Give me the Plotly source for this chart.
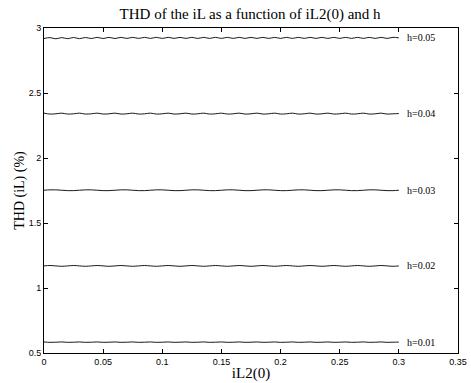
import plotly.graph_objects as go

x_vals = [
    0.000, 0.005, 0.010, 0.015, 0.020, 0.025, 0.030, 0.035, 0.040, 0.045,
    0.050, 0.055, 0.060, 0.065, 0.070, 0.075, 0.080, 0.085, 0.090, 0.095,
    0.100, 0.105, 0.110, 0.115, 0.120, 0.125, 0.130, 0.135, 0.140, 0.145,
    0.150, 0.155, 0.160, 0.165, 0.170, 0.175, 0.180, 0.185, 0.190, 0.195,
    0.200, 0.205, 0.210, 0.215, 0.220, 0.225, 0.230, 0.235, 0.240, 0.245,
    0.250, 0.255, 0.260, 0.265, 0.270, 0.275, 0.280, 0.285, 0.290, 0.295,
    0.300,
]

thd_h001 = [
    0.585, 0.582, 0.583, 0.585, 0.582, 0.583, 0.585, 0.582, 0.583, 0.585, 0.582, 0.583,
    0.585, 0.582, 0.583, 0.585, 0.582, 0.583, 0.585, 0.582, 0.583, 0.585, 0.582, 0.583,
    0.585, 0.582, 0.583, 0.585, 0.582, 0.583, 0.585, 0.582, 0.583, 0.585, 0.582, 0.583,
    0.585, 0.582, 0.583, 0.585, 0.582, 0.583, 0.585, 0.582, 0.583, 0.585, 0.582, 0.583,
    0.585, 0.582, 0.583, 0.585, 0.582, 0.583, 0.585, 0.582, 0.583, 0.585, 0.582, 0.583,
    0.584,
]

thd_h002 = [
    1.170, 1.173, 1.170, 1.167, 1.170, 1.173, 1.170, 1.167, 1.170, 1.173, 1.170, 1.167,
    1.170, 1.173, 1.170, 1.167, 1.170, 1.173, 1.170, 1.167, 1.170, 1.173, 1.170, 1.167,
    1.170, 1.173, 1.170, 1.167, 1.170, 1.173, 1.170, 1.167, 1.170, 1.173, 1.170, 1.167,
    1.170, 1.173, 1.170, 1.167, 1.170, 1.173, 1.170, 1.167, 1.170, 1.173, 1.170, 1.167,
    1.170, 1.173, 1.170, 1.167, 1.170, 1.173, 1.170, 1.167, 1.170, 1.173, 1.170, 1.167,
    1.170,
]

thd_h003 = [
    1.752, 1.755, 1.755, 1.752, 1.749, 1.749, 1.752, 1.755, 1.755, 1.752, 1.749, 1.749,
    1.752, 1.755, 1.755, 1.752, 1.749, 1.749, 1.752, 1.755, 1.755, 1.752, 1.749, 1.749,
    1.752, 1.755, 1.755, 1.752, 1.749, 1.749, 1.752, 1.755, 1.755, 1.752, 1.749, 1.749,
    1.752, 1.755, 1.755, 1.752, 1.749, 1.749, 1.752, 1.755, 1.755, 1.752, 1.749, 1.749,
    1.752, 1.755, 1.755, 1.752, 1.749, 1.749, 1.752, 1.755, 1.755, 1.752, 1.749, 1.749,
    1.752,
]

thd_h004 = [
    2.345, 2.338, 2.340, 2.345, 2.338, 2.340, 2.345, 2.338, 2.340, 2.345, 2.338, 2.340,
    2.345, 2.338, 2.340, 2.345, 2.338, 2.340, 2.345, 2.338, 2.340, 2.345, 2.338, 2.340,
    2.345, 2.338, 2.340, 2.345, 2.338, 2.340, 2.345, 2.338, 2.340, 2.345, 2.338, 2.340,
    2.345, 2.338, 2.340, 2.345, 2.338, 2.340, 2.345, 2.338, 2.340, 2.345, 2.338, 2.340,
    2.345, 2.338, 2.340, 2.345, 2.338, 2.340, 2.345, 2.338, 2.340, 2.345, 2.338, 2.340,
    2.342,
]

thd_h005 = [
    2.919, 2.926, 2.917, 2.926, 2.918, 2.927, 2.918, 2.927, 2.919, 2.928,
    2.919, 2.928, 2.919, 2.928, 2.920, 2.928, 2.920, 2.928, 2.920, 2.928,
    2.920, 2.928, 2.920, 2.928, 2.920, 2.928, 2.920, 2.928, 2.920, 2.928,
    2.920, 2.928, 2.920, 2.928, 2.920, 2.928, 2.920, 2.928, 2.920, 2.928,
    2.920, 2.928, 2.920, 2.928, 2.920, 2.928, 2.920, 2.928, 2.920, 2.928,
    2.920, 2.928, 2.920, 2.928, 2.920, 2.928, 2.920, 2.928, 2.920, 2.928,
    2.924,
]

series = [
    ("h=0.01", thd_h001),
    ("h=0.02", thd_h002),
    ("h=0.03", thd_h003),
    ("h=0.04", thd_h004),
    ("h=0.05", thd_h005),
]

x_ticks = [0, 0.05, 0.1, 0.15, 0.2, 0.25, 0.3, 0.35]
x_tick_text = ["0", "0.05", "0.1", "0.15", "0.2", "0.25", "0.3", "0.35"]
y_ticks = [0.5, 1, 1.5, 2, 2.5, 3]
y_tick_text = ["0.5", "1", "1.5", "2", "2.5", "3"]

fig = go.Figure()
annotations = []
for name, vals in series:
    fig.add_trace(go.Scatter(
        x=x_vals, y=vals, mode="lines", name=name,
        line=dict(color="black", width=0.9, shape="spline", smoothing=1.0),
        showlegend=False, hoverinfo="skip",
    ))
    annotations.append(dict(
        x=0.305, y=vals[-1], xref="x", yref="y", text=name,
        showarrow=False, xanchor="left", yanchor="middle",
        font=dict(family="Liberation Serif", size=10, color="#000000"),
    ))

tick_font = dict(family="Liberation Sans", size=9, color="black")
axis_common = dict(
    showgrid=False, zeroline=False, showline=True, linecolor="black",
    linewidth=1, mirror="ticks", ticks="inside", ticklen=4,
    tickcolor="black", tickwidth=1, tickfont=tick_font, automargin=False,
)

fig.update_layout(
    width=471, height=383,
    margin=dict(l=44, r=13, t=28, b=30),
    paper_bgcolor="white", plot_bgcolor="white",
    title=dict(
        text="THD of the iL as a function of iL2(0) and h",
        x=0.531, xanchor="center", y=0.964, yanchor="middle",
        font=dict(family="Liberation Serif", size=15, color="black"),
    ),
    xaxis=dict(
        range=[0, 0.35], tickvals=x_ticks, ticktext=x_tick_text,
        title=dict(text="iL2(0)", standoff=1,
                   font=dict(family="Liberation Serif", size=15, color="black")),
        **axis_common,
    ),
    yaxis=dict(
        range=[0.5, 3], tickvals=y_ticks, ticktext=y_tick_text,
        title=dict(text="THD (iL) (%)", standoff=0,
                   font=dict(family="Liberation Serif", size=14, color="black")),
        **axis_common,
    ),
    annotations=annotations,
)

fig.write_html(
    "out.html",
    config={"displayModeBar": False},
    post_script="document.body.style.margin='0';document.body.style.overflow='hidden';",
)
